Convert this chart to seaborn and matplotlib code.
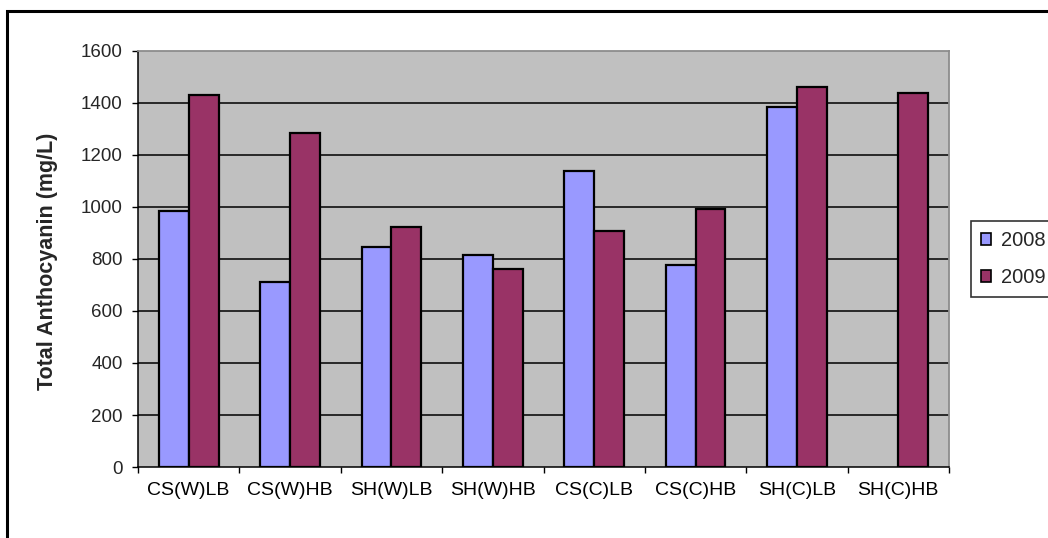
import numpy as np
import pandas as pd
import matplotlib
matplotlib.use("Agg")
import matplotlib.pyplot as plt
from matplotlib.patches import Rectangle, Patch
from matplotlib.ticker import FixedLocator
import seaborn as sns

# Total anthocyanin per treatment and vintage
treatments = ["CS(W)LB", "CS(W)HB", "SH(W)LB", "SH(W)HB",
              "CS(C)LB", "CS(C)HB", "SH(C)LB", "SH(C)HB"]
years = ["2008", "2009"]
anth_2008 = [985, 710, 848, 817, 1137, 778, 1383, np.nan]
anth_2009 = [1430, 1284, 923, 763, 907, 991, 1460, 1438]
year_colors = ["#9999FF", "#993366"]
y_ticks = [0, 200, 400, 600, 800, 1000, 1200, 1400, 1600]

df = pd.DataFrame({
    "treatment": treatments * 2,
    "year": ["2008"] * len(treatments) + ["2009"] * len(treatments),
    "anth": anth_2008 + anth_2009,
}).dropna()

sns.set_theme(style="white")
plt.rcParams["font.family"] = ["Liberation Sans", "DejaVu Sans"]

W, H = 1048, 538
fig = plt.figure(figsize=(W / 100, H / 100), dpi=100)
ax = fig.add_axes([138 / W, 1 - 467 / H, (949 - 138) / W, (467 - 51) / H])
ax.set_facecolor("#C0C0C0")

sns.barplot(data=df, x="treatment", y="anth", hue="year",
            order=treatments, hue_order=years, palette=year_colors,
            width=0.59, saturation=1, errorbar=None,
            edgecolor="black", linewidth=1.6, legend=False, ax=ax, zorder=3)

ax.set_xlim(-0.5, len(treatments) - 0.5)
ax.set_ylim(0, 1600)
ax.set_yticks(y_ticks)
ax.set_yticklabels([str(v) for v in y_ticks], fontsize=13.5)
ax.set_xticks(range(len(treatments)))
ax.set_xticklabels(treatments, fontsize=14)

# Horizontal gridlines at each interior tick
for v in y_ticks[1:-1]:
    ax.axhline(v, color="black", linewidth=1.1, zorder=1)

# Category boundary tick marks on the x axis
ax.xaxis.set_minor_locator(FixedLocator(np.arange(-0.5, len(treatments), 1.0)))
ax.tick_params(axis="x", which="major", length=0, pad=11, colors="black")
ax.tick_params(axis="x", which="minor", bottom=True, length=4.5, width=1, color="black")
ax.tick_params(axis="y", which="major", left=True, length=4, width=1, pad=7, color="black")

for side in ["left", "bottom"]:
    ax.spines[side].set_color("black")
    ax.spines[side].set_linewidth(1.1)
for side in ["top", "right"]:
    ax.spines[side].set_color("#8C8C8C")
    ax.spines[side].set_linewidth(1.3)

ax.set_xlabel("")
ax.set_ylabel("Total Anthocyanin (mg/L)", fontsize=15.5, fontweight="bold")
ax.yaxis.set_label_coords(48 / W, 1 - 261 / H, transform=fig.transFigure)
ax.yaxis.label.set_va("center")

# Legend at the right edge of the chart
handles = [Patch(facecolor=c, edgecolor="black", linewidth=1.2, label=y)
           for c, y in zip(year_colors, years)]
leg = fig.legend(handles=handles, loc="upper left",
                 bbox_to_anchor=(971 / W, 1 - 221 / H),
                 fontsize=14.5, frameon=True, fancybox=False,
                 handlelength=0.5, handleheight=0.5, handletextpad=0.5,
                 labelspacing=0.9, borderpad=0.5, borderaxespad=0)
leg.get_frame().set_edgecolor("black")
leg.get_frame().set_linewidth(1.2)
leg.get_frame().set_facecolor("white")

# Chart frame
fig.patches.append(Rectangle((7 / W, -0.2), 1.2, 1.2 - 11 / H,
                             transform=fig.transFigure, fill=False,
                             edgecolor="black", linewidth=2.2))

fig.savefig("out.png", dpi=100, facecolor="white")
